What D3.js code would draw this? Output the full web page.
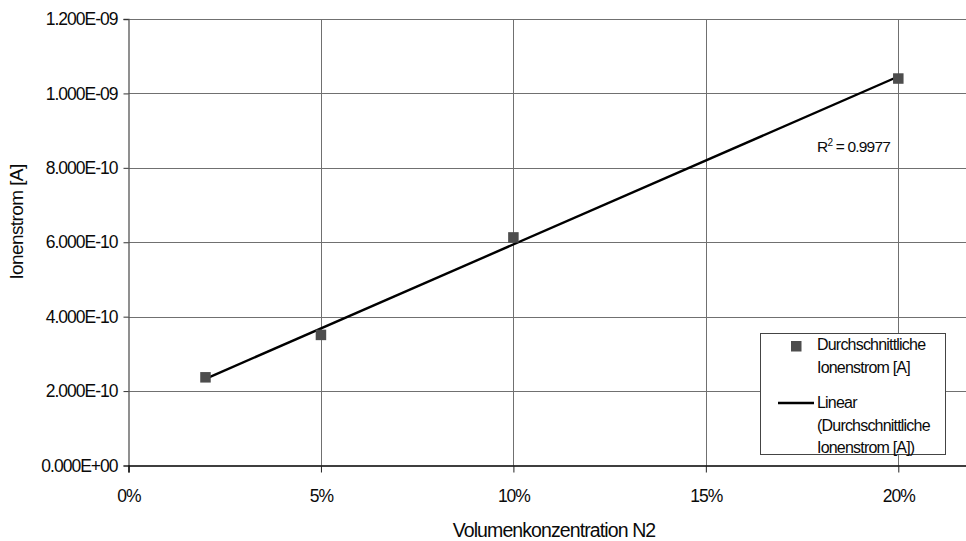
<!DOCTYPE html>
<html>
<head>
<meta charset="utf-8">
<script src="https://cdn.jsdelivr.net/npm/d3@7"></script>
<style>
  html, body { margin: 0; padding: 0; background: #fff; }
  svg { display: block; font-family: "Liberation Sans", Arial, sans-serif; }
</style>
</head>
<body>
<svg id="chart" width="966" height="541"></svg>
<script>
// Measured N2 concentrations and the averaged ion current
const concentrations = [0.02, 0.05, 0.10, 0.20];
const ionCurrent = [2.37e-10, 3.51e-10, 6.13e-10, 1.04e-9];
const xTicks = [0, 0.05, 0.10, 0.15, 0.20];
const yTicks = [0, 2e-10, 4e-10, 6e-10, 8e-10, 1e-9, 1.2e-9];
const rSquaredText = "0.9977";
const seriesName = ["Durchschnittliche", "Ionenstrom [A]"];
const trendName = ["Linear", "(Durchschnittliche", "Ionenstrom [A])"];

(function draw() {
  const svg = d3.select("#chart");
  const plotLeft = 128.5, plotTop = 19, plotBottom = 465.5;
  const pxPerUnit = (898.3 - plotLeft) / 0.20;
  const font = "'Liberation Sans', Arial, sans-serif";

  const x = d3.scaleLinear().domain([0, 0.22]).range([plotLeft, plotLeft + 0.22 * pxPerUnit]);
  const y = d3.scaleLinear().domain([0, 1.2e-9]).range([plotBottom, plotTop]);

  const gridColor = "#707070";

  // horizontal gridlines
  svg.append("g").selectAll("line").data(yTicks.filter(d => d > 0)).join("line")
    .attr("x1", plotLeft).attr("x2", 966)
    .attr("y1", d => Math.round(y(d)) + 0.5).attr("y2", d => Math.round(y(d)) + 0.5)
    .attr("stroke", gridColor).attr("stroke-width", 1);

  // vertical gridlines
  svg.append("g").selectAll("line").data(xTicks.filter(d => d > 0)).join("line")
    .attr("x1", d => Math.round(x(d)) + 0.5).attr("x2", d => Math.round(x(d)) + 0.5)
    .attr("y1", plotTop).attr("y2", plotBottom)
    .attr("stroke", gridColor).attr("stroke-width", 1);

  // y axis
  const yAxis = d3.axisLeft(y).tickValues(yTicks).tickSize(5).tickPadding(6)
    .tickFormat(d => d.toExponential(3).toUpperCase().replace(/E([+-])(\d)$/, "E$10$2"));
  const gy = svg.append("g").attr("transform", `translate(${plotLeft},0)`).call(yAxis);
  gy.select(".domain").attr("stroke", "#555").attr("stroke-width", 1.3);
  gy.selectAll(".tick line").attr("stroke", "#333");
  gy.selectAll(".tick text").attr("font-size", 17.5).attr("letter-spacing", -1.0)
    .attr("fill", "#0a0a0a").attr("font-family", font);

  // x axis
  const xAxis = d3.axisBottom(x).tickValues(xTicks).tickSize(7).tickPadding(17)
    .tickFormat(d3.format(".0%"));
  const gx = svg.append("g").attr("transform", `translate(0,${plotBottom})`).call(xAxis);
  gx.select(".domain").attr("stroke", "#000").attr("stroke-width", 1.5);
  gx.selectAll(".tick line").attr("stroke", "#222");
  gx.selectAll(".tick text").attr("font-size", 17.5).attr("letter-spacing", -1.0)
    .attr("fill", "#0a0a0a").attr("font-family", font);

  // least-squares trend line through the measurements
  const mx = d3.mean(concentrations), my = d3.mean(ionCurrent);
  const sxy = d3.sum(concentrations, (c, i) => (c - mx) * (ionCurrent[i] - my));
  const sxx = d3.sum(concentrations, c => (c - mx) ** 2);
  const slope = sxy / sxx, intercept = my - slope * mx;
  const xr = d3.extent(concentrations);
  svg.append("line")
    .attr("x1", x(xr[0])).attr("y1", y(intercept + slope * xr[0]))
    .attr("x2", x(xr[1])).attr("y2", y(intercept + slope * xr[1]))
    .attr("stroke", "#000").attr("stroke-width", 2.4);

  // data markers
  const ms = 10.5;
  svg.append("g").selectAll("rect").data(concentrations).join("rect")
    .attr("x", d => x(d) - ms / 2)
    .attr("y", (d, i) => y(ionCurrent[i]) - ms / 2)
    .attr("width", ms).attr("height", ms)
    .attr("fill", "#4d4d4d");

  // R² annotation
  const rt = svg.append("text").attr("x", 817).attr("y", 152)
    .attr("font-size", 15.5).attr("letter-spacing", -0.8).attr("fill", "#0a0a0a");
  rt.append("tspan").text("R");
  rt.append("tspan").attr("font-size", 10).attr("dy", -6).text("2");
  rt.append("tspan").attr("dy", 6).text(" = " + rSquaredText);

  // legend
  const lg = svg.append("g");
  lg.append("rect").attr("x", 760.5).attr("y", 333.5).attr("width", 185).attr("height", 121)
    .attr("fill", "#fff").attr("stroke", "#444").attr("stroke-width", 1);
  lg.append("rect").attr("x", 791).attr("y", 341).attr("width", 10.5).attr("height", 10.5)
    .attr("fill", "#4d4d4d");
  lg.append("line").attr("x1", 778).attr("x2", 814).attr("y1", 403).attr("y2", 403)
    .attr("stroke", "#000").attr("stroke-width", 2.4);
  const legText = (lines, y0) => lines.forEach((t, i) =>
    lg.append("text").attr("x", 817).attr("y", y0 + i * 22.5)
      .attr("font-size", 16).attr("letter-spacing", -0.8).attr("fill", "#0a0a0a").text(t));
  legText(seriesName, 350);
  legText(trendName, 408);

  // axis titles
  svg.append("text").attr("x", 554).attr("y", 537).attr("text-anchor", "middle")
    .attr("font-size", 19.5).attr("letter-spacing", -0.9).attr("fill", "#0a0a0a")
    .text("Volumenkonzentration N2");
  svg.append("text").attr("transform", "translate(23,222) rotate(-90)")
    .attr("text-anchor", "middle")
    .attr("font-size", 19).attr("letter-spacing", -0.6).attr("fill", "#0a0a0a")
    .text("Ionenstrom [A]");
})();
</script>
</body>
</html>
